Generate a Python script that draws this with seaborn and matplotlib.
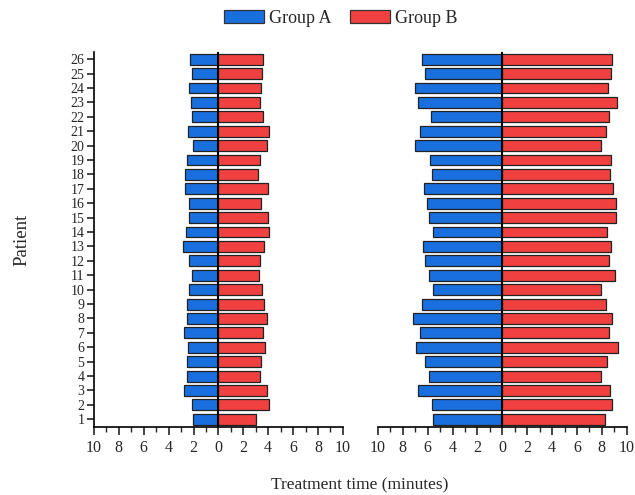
import numpy as np
import pandas as pd
import matplotlib
matplotlib.use("Agg")
import matplotlib.pyplot as plt
import seaborn as sns
from matplotlib.patches import Patch
from matplotlib.ticker import MultipleLocator

# patients 1..26 (bottom to top)
patients = list(range(1, 27))

# left panel (minutes)
left_a = [2.01, 2.14, 2.76, 2.54, 2.49, 2.44, 2.76, 2.54, 2.54, 2.38, 2.14, 2.33, 2.84,
          2.60, 2.33, 2.36, 2.68, 2.68, 2.52, 2.01, 2.44, 2.14, 2.20, 2.33, 2.09, 2.28]
left_b = [3.05, 4.10, 3.88, 3.37, 3.43, 3.72, 3.61, 3.94, 3.67, 3.53, 3.27, 3.37, 3.70,
          4.10, 4.02, 3.43, 4.02, 3.19, 3.32, 3.94, 4.10, 3.61, 3.32, 3.43, 3.53, 3.61]

# right panel (minutes)
right_a = [5.53, 5.64, 6.76, 5.88, 6.23, 6.95, 6.60, 7.14, 6.44, 5.59, 5.88, 6.20, 6.36,
           5.59, 5.88, 6.07, 6.31, 5.64, 5.78, 7.01, 6.60, 5.72, 6.74, 7.01, 6.20, 6.44]
right_b = [8.26, 8.85, 8.66, 7.94, 8.45, 9.28, 8.61, 8.80, 8.34, 7.94, 9.06, 8.56, 8.72,
           8.42, 9.14, 9.14, 8.90, 8.64, 8.72, 7.94, 8.37, 8.61, 9.20, 8.48, 8.72, 8.85]

groups = ["Group A", "Group B"]
colors = {"Group A": "#1a6fdf", "Group B": "#f04040"}
x_ticks = [-10, -8, -6, -4, -2, 0, 2, 4, 6, 8, 10]
x_ticklabels = ["10", "8", "6", "4", "2", "0", "2", "4", "6", "8", "10"]


def long_frame(a_vals, b_vals):
    # Group A drawn to the left (negative), Group B to the right
    df_a = pd.DataFrame({"patient": patients, "group": "Group A", "value": -np.array(a_vals)})
    df_b = pd.DataFrame({"patient": patients, "group": "Group B", "value": np.array(b_vals)})
    return pd.concat([df_a, df_b], ignore_index=True)


sns.set_style("white")
plt.rcParams["font.family"] = ["Liberation Serif", "DejaVu Serif"]

fig = plt.figure(figsize=(6.35, 4.95), dpi=100)
ax1 = fig.add_axes([0.148, 0.137, 0.392, 0.758])
ax2 = fig.add_axes([0.595, 0.137, 0.392, 0.758])

for ax, a_vals, b_vals in [(ax1, left_a, left_b), (ax2, right_a, right_b)]:
    df = long_frame(a_vals, b_vals)
    sns.barplot(data=df, x="value", y="patient", hue="group", orient="h",
                native_scale=True, dodge=False, palette=colors, saturation=1,
                width=0.76, edgecolor="#222222", linewidth=0.9, legend=False, ax=ax)
    ax.axvline(0, color="black", linewidth=1.5, zorder=5)
    ax.set_xlim(-10, 10)
    ax.set_ylim(0.45, 26.5)
    ax.set_xticks(x_ticks)
    ax.set_xticklabels(x_ticklabels)
    ax.xaxis.set_minor_locator(MultipleLocator(1))
    ax.tick_params(axis="x", which="major", direction="out", length=6, width=1.2,
                   labelsize=11.5, bottom=True, pad=3)
    ax.tick_params(axis="x", which="minor", direction="out", length=3.5, width=1.0, bottom=True)
    ax.set_xlabel("")
    ax.set_ylabel("")
    for side in ["top", "right"]:
        ax.spines[side].set_visible(False)
    ax.spines["bottom"].set_color("black")
    ax.spines["bottom"].set_linewidth(1.2)

# left panel keeps the patient axis
ax1.set_yticks(patients)
ax1.set_yticklabels([str(p) for p in patients])
ax1.tick_params(axis="y", direction="out", length=5, width=1.2, labelsize=10, left=True, pad=2)
ax1.spines["left"].set_color("black")
ax1.spines["left"].set_linewidth(1.2)
ax1.set_ylabel("Patient", fontsize=13.5)
ax1.yaxis.set_label_coords(-0.255, 0.5)

ax2.spines["left"].set_visible(False)
ax2.set_yticks([])

fig.text(0.566, 0.02, "Treatment time (minutes)", ha="center", va="center", fontsize=12.5)

handles = [Patch(facecolor=colors[g], edgecolor="#333333", linewidth=0.9, label=g) for g in groups]
fig.legend(handles=handles, loc="center", bbox_to_anchor=(0.537, 0.963), ncol=2,
           frameon=False, fontsize=13, handlelength=2.2, handleheight=0.72,
           handletextpad=0.3, columnspacing=1.0)

fig.savefig("out.png", dpi=100)
